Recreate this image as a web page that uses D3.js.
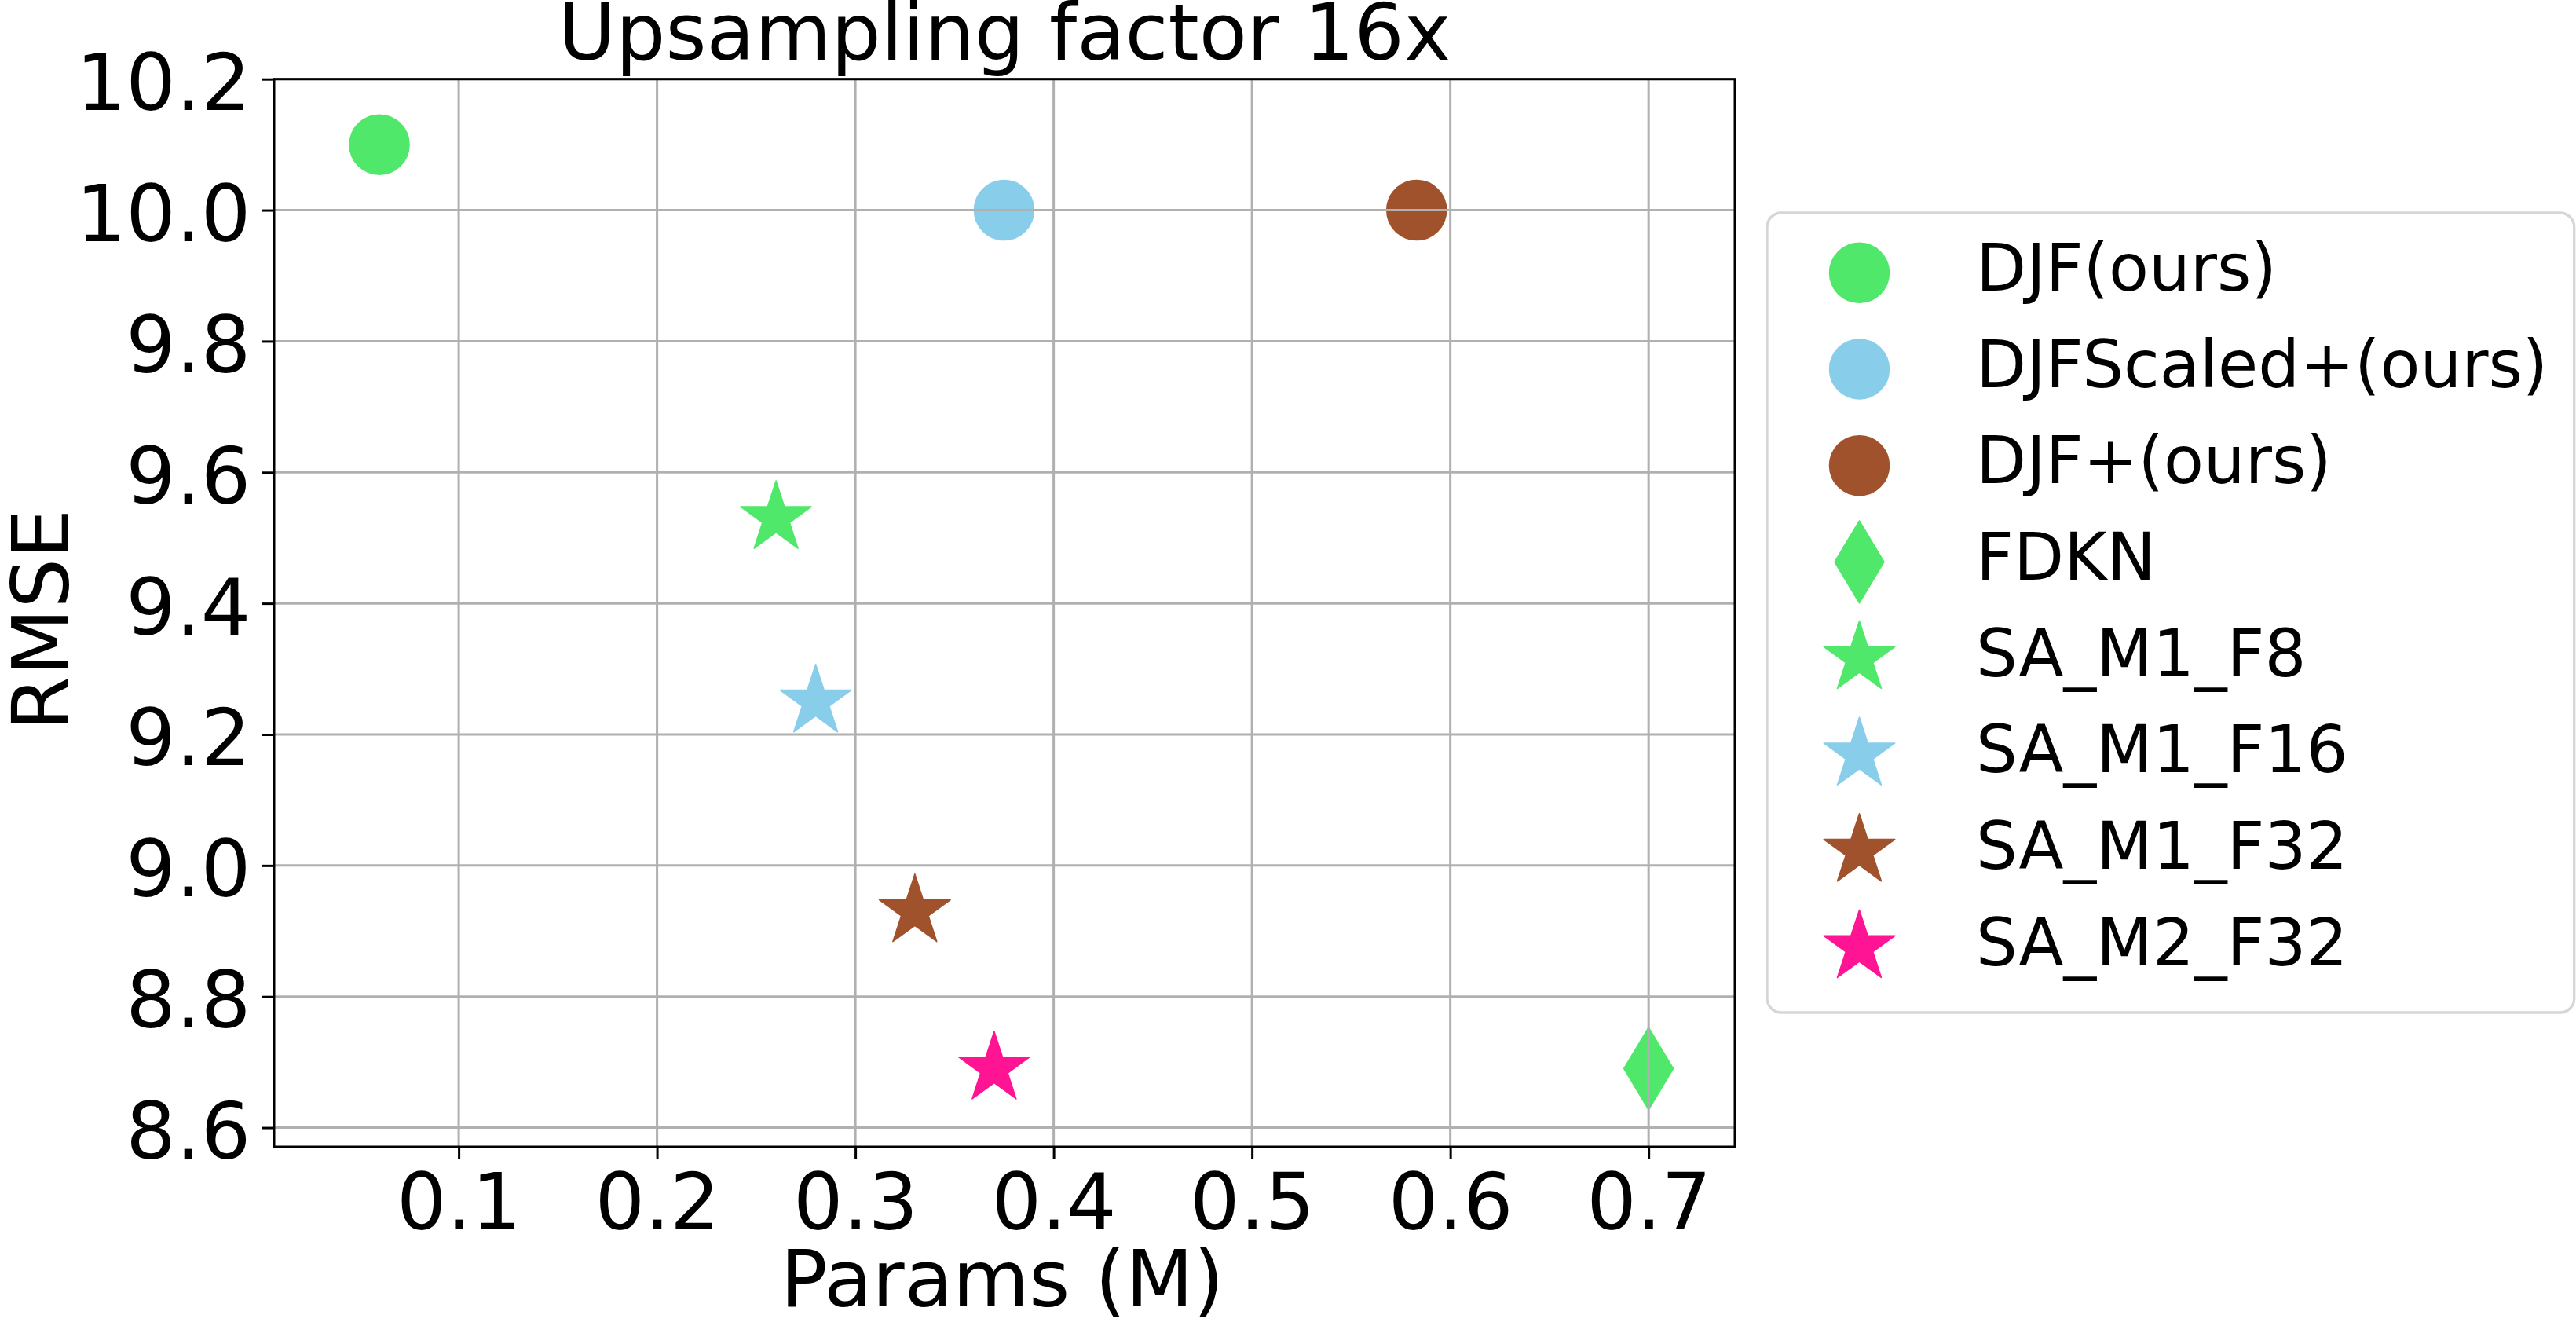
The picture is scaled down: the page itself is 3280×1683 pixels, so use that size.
<!DOCTYPE html>
<html>
<head>
<meta charset="utf-8">
<script src="https://cdn.jsdelivr.net/npm/d3@7"></script>
<style>
  html, body { margin: 0; padding: 0; background: #ffffff; }
  svg { display: block; }
  text { font-family: "DejaVu Sans", sans-serif; fill: #000; }
</style>
</head>
<body>
<svg id="chart" width="3280" height="1683"></svg>
<script>
// ---- data ----
const methods = ["DJF(ours)", "DJFScaled+(ours)", "DJF+(ours)", "FDKN", "SA_M1_F8", "SA_M1_F16", "SA_M1_F32", "SA_M2_F32"];
const params  = [0.06, 0.375, 0.583, 0.70, 0.26, 0.28, 0.33, 0.37];
const rmse    = [10.10, 10.00, 10.00, 8.69, 9.53, 9.25, 8.93, 8.69];
const shapes  = ["circle", "circle", "circle", "diamond", "star", "star", "star", "star"];
const colors  = ["#50e86a", "#88ceeb", "#a0522d", "#50e86a", "#50e86a", "#88ceeb", "#a0522d", "#ff1493"];
const xTicks  = [0.1, 0.2, 0.3, 0.4, 0.5, 0.6, 0.7];
const yTicks  = [8.6, 8.8, 9.0, 9.2, 9.4, 9.6, 9.8, 10.0, 10.2];
const xDomain = [0.0069, 0.7435];
const yDomain = [8.5707, 10.2];
const titleText = "Upsampling factor 16x";
const xLabel = "Params (M)";
const yLabel = "RMSE";

// ---- layout ----
const L = 349, R = 2209, T = 100.7, B = 1460;
const svg = d3.select("#chart");
const x = d3.scaleLinear().domain(xDomain).range([L, R]);
const y = d3.scaleLinear().domain(yDomain).range([B, T]);

function markerPath(shape) {
  if (shape === "circle") {
    const r = 38;
    return `M${-r},0A${r},${r} 0 1,0 ${r},0A${r},${r} 0 1,0 ${-r},0Z`;
  }
  if (shape === "diamond") {
    return "M0,-52.5L31.5,0L0,52.5L-31.5,0Z";
  }
  // 5-point star (matplotlib-like)
  const Ro = 47.6, Ri = Ro * 0.381966;
  const pts = d3.range(10).map(i => {
    const a = -Math.PI / 2 + i * Math.PI / 5;
    const rr = i % 2 === 0 ? Ro : Ri;
    return [rr * Math.cos(a), rr * Math.sin(a)];
  });
  return "M" + pts.map(p => p[0].toFixed(2) + "," + p[1].toFixed(2)).join("L") + "Z";
}

const data = methods.map((m, i) => ({ name: m, px: params[i], ry: rmse[i], shape: shapes[i], color: colors[i] }));

// ---- markers ----
const plot = svg.append("g");
plot.selectAll("path.mark").data(data).enter().append("path")
  .attr("class", "mark")
  .attr("d", d => markerPath(d.shape))
  .attr("transform", d => `translate(${x(d.px)},${y(d.ry)})`)
  .attr("fill", d => d.color)
  .attr("stroke", d => d.color)
  .attr("stroke-width", 1.5)
  .attr("stroke-linejoin", "round");

// ---- grid (drawn above markers, like the reference) ----
const grid = svg.append("g").attr("stroke", "#b0b0b0").attr("stroke-width", 3);
grid.selectAll("line.gx").data(xTicks).enter().append("line")
  .attr("x1", d => x(d)).attr("x2", d => x(d)).attr("y1", T).attr("y2", B);
grid.selectAll("line.gy").data(yTicks).enter().append("line")
  .attr("x1", L).attr("x2", R).attr("y1", d => y(d)).attr("y2", d => y(d));

// ---- axes ----
const fmt = d3.format(".1f");
const gx = svg.append("g").attr("transform", `translate(0,${B})`)
  .call(d3.axisBottom(x).tickValues(xTicks).tickFormat(fmt).tickSize(15).tickPadding(19));
const gy = svg.append("g").attr("transform", `translate(${L},0)`)
  .call(d3.axisLeft(y).tickValues(yTicks).tickFormat(fmt).tickSize(15).tickPadding(14.6));
[gx, gy].forEach(g => {
  g.attr("font-family", "DejaVu Sans").attr("font-size", 100);
  g.select(".domain").remove();
  g.selectAll(".tick line").attr("stroke", "#000").attr("stroke-width", 3);
  g.selectAll(".tick text").attr("fill", "#000");
});
gy.selectAll(".tick text").attr("dy", "0.39em");

// ---- spines ----
svg.append("rect").attr("x", L).attr("y", T).attr("width", R - L).attr("height", B - T)
  .attr("fill", "none").attr("stroke", "#000").attr("stroke-width", 3);

// ---- title & labels ----
svg.append("text").attr("x", (L + R) / 2).attr("y", 76).attr("text-anchor", "middle")
  .attr("font-size", 100).text(titleText);
svg.append("text").attr("x", (L + R) / 2 - 3).attr("y", 1663).attr("text-anchor", "middle")
  .attr("font-size", 100).text(xLabel);
svg.append("text").attr("transform", "translate(87,789) rotate(-90)").attr("text-anchor", "middle")
  .attr("font-size", 100).text(yLabel);

// ---- legend ----
const leg = svg.append("g");
leg.append("rect").attr("x", 2250).attr("y", 271).attr("width", 1027.7).attr("height", 1018)
  .attr("rx", 18).attr("ry", 18).attr("fill", "#fff").attr("stroke", "#d6d6d6").attr("stroke-width", 3.3);
const rowY = i => 347.3 + i * 122.67;
const items = leg.selectAll("g.item").data(data).enter().append("g").attr("class", "item");
items.append("path")
  .attr("d", d => markerPath(d.shape))
  .attr("transform", (d, i) => `translate(2367.5,${rowY(i)})`)
  .attr("fill", d => d.color).attr("stroke", d => d.color)
  .attr("stroke-width", 1.5).attr("stroke-linejoin", "round");
items.append("text")
  .attr("x", 2516).attr("y", (d, i) => rowY(i) + 22.7)
  .attr("font-size", 83.3).text(d => d.name);
</script>
</body>
</html>
